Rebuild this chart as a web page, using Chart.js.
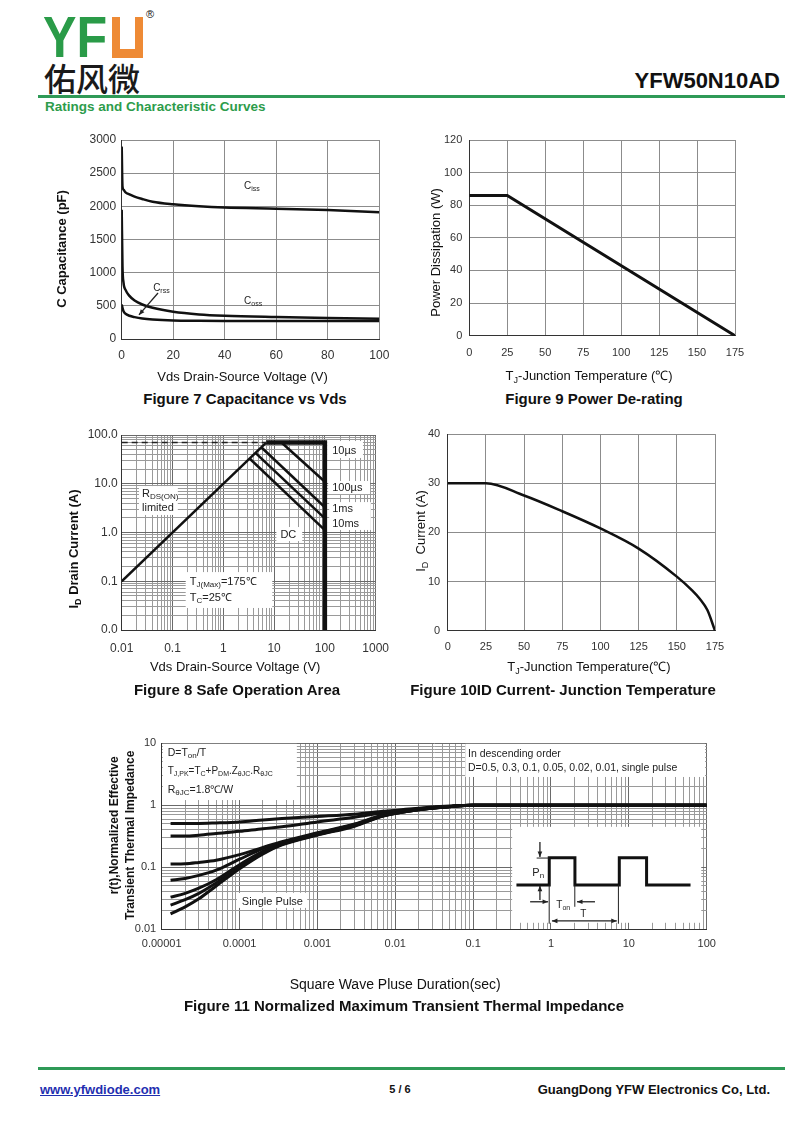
<!DOCTYPE html>
<html>
<head>
<meta charset="utf-8">
<title>YFW50N10AD Ratings and Characteristic Curves</title>
<script src="https://cdn.jsdelivr.net/npm/chart.js@4.4.1/dist/chart.umd.min.js"></script>
<style>
    body { margin: 0; width: 800px; height: 1130px; position: relative; overflow: hidden; background: #fff;
           font-family: 'Liberation Sans', Arial, Helvetica, sans-serif; color: #111; }
    canvas, .abs { position: absolute; }
    #logoYF { left: 43px; top: 9px; font: bold 57px/57px 'Liberation Sans', Arial, sans-serif; color: #2a9b48;
              transform: scaleX(0.88); transform-origin: 0 0; }
    #logoU { left: 112px; top: 17px; width: 31px; height: 41px; background: #ee8a35; }
    #logoU div { position: absolute; left: 8px; top: 0; width: 15px; height: 32px; background: #fff; }
    #logoR { left: 146px; top: 8px; font-size: 11px; }
    #logoCn { left: 44px; top: 60px; font: 500 32px/34px 'Noto Sans CJK SC', sans-serif; color: #1a1a1a; }
    #part { right: 20px; top: 70px; font: bold 22px/22px 'Liberation Sans', Arial, sans-serif; }
    .rule { left: 38px; width: 747px; height: 3px; background: #2f9a57; }
    #section { left: 45px; top: 100px; font: bold 13.5px/13.5px 'Liberation Sans', Arial, sans-serif; color: #2d9c4b; }
    .cap { width: 500px; text-align: center; font: bold 15px/15px 'Liberation Sans', Arial, sans-serif; white-space: nowrap; }
    #url { left: 40px; top: 1083px; font: bold 13px/13px 'Liberation Sans', Arial, sans-serif; color: #1f2fb0; text-decoration: underline; }
    #page { left: 370px; top: 1084px; width: 60px; text-align: center; font: bold 11px/11px 'Liberation Sans', Arial, sans-serif; }
    #company { right: 30px; top: 1083px; font: bold 13px/13px 'Liberation Sans', Arial, sans-serif; }
</style>
</head>
<body>
<div class="abs" id="logoYF">YF</div>
<div class="abs" id="logoU"><div></div></div>
<div class="abs" id="logoR">®</div>
<div class="abs" id="logoCn">佑风微</div>
<div class="abs" id="part">YFW50N10AD</div>
<div class="abs rule" style="top:95px"></div>
<div class="abs" id="section">Ratings and Characteristic Curves</div>

<canvas id="capChart"></canvas>
<canvas id="powerChart"></canvas>
<canvas id="soaChart"></canvas>
<canvas id="currentChart"></canvas>
<canvas id="thermalChart"></canvas>

<div class="abs cap" style="left:-5px;top:391px">Figure 7 Capacitance vs Vds</div>
<div class="abs cap" style="left:344px;top:391px">Figure 9 Power De-rating</div>
<div class="abs cap" style="left:-13px;top:682px">Figure 8 Safe Operation Area</div>
<div class="abs cap" style="left:313px;top:682px">Figure 10ID Current- Junction Temperature</div>
<div class="abs cap" style="left:154px;top:998px">Figure 11 Normalized Maximum Transient Thermal Impedance</div>

<div class="abs rule" style="top:1067px"></div>
<div class="abs" id="url">www.yfwdiode.com</div>
<div class="abs" id="page">5 / 6</div>
<div class="abs" id="company">GuangDong YFW Electronics Co, Ltd.</div>

<script>
// ---------- data ----------
// Figure 7: capacitance vs Vds
const capVds  = [0, 0.3, 0.7, 1.5, 3, 5, 8, 12, 20, 30, 40, 60, 80, 100];
const capCiss = [2900, 2300, 2250, 2210, 2180, 2146, 2110, 2070, 2031, 2000, 1981, 1965, 1945, 1911];
const capCoss = [1950, 1100, 850, 740, 650, 580, 520, 470, 410, 370, 350, 330, 315, 305];
const capCrss = [520, 470, 420, 380, 350, 330, 310, 295, 280, 275, 272, 270, 270, 270];
const capXTicks = [0, 20, 40, 60, 80, 100];
const capYTicks = [0, 500, 1000, 1500, 2000, 2500, 3000];

// Figure 9: power de-rating
const pdTemp = [0, 25, 175];
const pdWatt = [86, 86, 0];
const pdXTicks = [0, 25, 50, 75, 100, 125, 150, 175];
const pdYTicks = [0, 20, 40, 60, 80, 100, 120];

// Figure 8: safe operating area
const soaRdsV = [0.01, 7];        const soaRdsI = [0.1, 70];
const soaDashV = [0.01, 7];       const soaDashI = [70, 70];
const soaLimitV = [7, 100, 100];  const soaLimitI = [70, 70, 0.01];
const soa100usV = [14, 100];      const soa100usI = [70, 11];
const soa1msV = [5.6, 100];       const soa1msI = [56, 3.3];
const soa10msV = [4.3, 100];      const soa10msI = [43, 1.95];
const soaDcV = [3.3, 100];        const soaDcI = [33, 1.12];
const soaXTicks = [0.01, 0.1, 1, 10, 100, 1000];
const soaXLabels = ['0.01', '0.1', '1', '10', '100', '1000'];
const soaYTicks = [0.01, 0.1, 1, 10, 100];
const soaYLabels = ['0.0', '0.1', '1.0', '10.0', '100.0'];

// Figure 10: drain current vs junction temperature
const idTemp = [0, 25, 50, 75, 100, 125, 150, 160, 165, 170, 175];
const idAmp  = [30, 30, 27.5, 24.3, 20.8, 16.7, 11, 8.2, 6.5, 4.2, 0];
const idXTicks = [0, 25, 50, 75, 100, 125, 150, 175];
const idYTicks = [0, 10, 20, 30, 40];

// Figure 11: transient thermal impedance
const thTime = [1.3e-5, 2e-5, 3e-5, 5e-5, 1e-4, 2e-4, 3.5e-4, 1e-3, 3e-3, 7e-3, 0.02, 0.05, 0.1, 1, 10, 100];
const thD50  = [0.51, 0.51, 0.51, 0.52, 0.54, 0.58, 0.61, 0.66, 0.72, 0.80, 0.90, 0.97, 1, 1, 1, 1];
const thD30  = [0.32, 0.32, 0.33, 0.35, 0.38, 0.42, 0.45, 0.54, 0.64, 0.76, 0.88, 0.96, 1, 1, 1, 1];
const thD10  = [0.113, 0.114, 0.12, 0.13, 0.16, 0.21, 0.26, 0.36, 0.50, 0.70, 0.86, 0.96, 1, 1, 1, 1];
const thD05  = [0.062, 0.066, 0.074, 0.09, 0.135, 0.2, 0.25, 0.35, 0.49, 0.69, 0.86, 0.96, 1, 1, 1, 1];
const thD02  = [0.033, 0.038, 0.046, 0.063, 0.11, 0.18, 0.24, 0.34, 0.48, 0.68, 0.85, 0.95, 1, 1, 1, 1];
const thD01  = [0.0246, 0.03, 0.038, 0.056, 0.10, 0.17, 0.235, 0.335, 0.47, 0.68, 0.85, 0.95, 1, 1, 1, 1];
const thSingle = [0.0177, 0.023, 0.031, 0.05, 0.095, 0.165, 0.23, 0.33, 0.46, 0.67, 0.85, 0.95, 1, 1, 1, 1];
const pulseT = [0.36, 0.95, 0.95, 2.03, 2.03, 7.54, 7.54, 16.9, 16.9, 62];
const pulseR = [0.052, 0.052, 0.143, 0.143, 0.052, 0.052, 0.143, 0.143, 0.052, 0.052];
const thXTicks = [1e-5, 1e-4, 1e-3, 1e-2, 0.1, 1, 10, 100];
const thXLabels = ['0.00001', '0.0001', '0.001', '0.01', '0.1', '1', '10', '100'];
const thYTicks = [0.01, 0.1, 1, 10];
const thYLabels = ['0.01', '0.1', '1', '10'];

// ---------- shared setup ----------
const FONT = "'Liberation Sans', Arial, Helvetica, sans-serif";
Chart.defaults.font.family = FONT;
Chart.defaults.font.size = 11;
Chart.defaults.color = '#333';

const isDecade = v => Math.abs(Math.log10(v) - Math.round(Math.log10(v))) < 1e-6;

// 1..9 x 10^n grid values between lo and hi (decades)
function logGrid(lo, hi) {
    const out = [];
    for (let e = Math.round(Math.log10(lo)); e < Math.round(Math.log10(hi)); e++) {
        for (let m = 1; m < 10; m++) out.push(m * Math.pow(10, e));
    }
    out.push(hi);
    return out;
}

function axis(type, ticks, labels, pad, size) {
    const log = type === 'logarithmic';
    return {
        type,
        min: ticks[0],
        max: ticks[ticks.length - 1],
        afterBuildTicks: s => {
            s.ticks = (log ? logGrid(ticks[0], ticks[ticks.length - 1]) : ticks).map(v => ({ value: v }));
        },
        ticks: {
            autoSkip: false, maxRotation: 0, minRotation: 0, padding: pad,
            font: { size: size || 11 },
            callback: v => {
                const i = ticks.findIndex(t => Math.abs(v - t) <= Math.abs(t) * 1e-6 + 1e-12);
                return i < 0 ? '' : (labels ? labels[i] : String(ticks[i]));
            }
        },
        grid: {
            drawTicks: false, lineWidth: 1,
            color: log ? (c => (c.tick && isDecade(c.tick.value)) ? '#6a6a6a' : '#9a9a9a') : '#8c8c8c'
        },
        border: { color: '#333', width: 1 }
    };
}

function line(xs, ys, width, extra) {
    return Object.assign({
        data: xs.map((x, i) => ({ x, y: ys[i] })),
        showLine: true, borderColor: '#111', borderWidth: width, pointRadius: 0, fill: false
    }, extra || {});
}
const smooth = { cubicInterpolationMode: 'monotone' };

// ---------- annotation text, boxes and arrows (positions as fractions of the plot area) ----------
function richParts(str) {
    return str.split(/(_\{[^}]*\})/).filter(Boolean)
        .map(s => s.startsWith('_{') ? { t: s.slice(2, -1), sub: true } : { t: s, sub: false });
}

function drawRich(ctx, str, x, y, size, weight, align) {
    const segs = richParts(str);
    const subSize = Math.round(size * 0.72);
    let total = 0;
    segs.forEach(s => {
        ctx.font = `${weight} ${s.sub ? subSize : size}px ${FONT}`;
        s.w = ctx.measureText(s.t).width;
        total += s.w;
    });
    let cx = align === 'center' ? x - total / 2 : x;
    ctx.textAlign = 'left';
    ctx.textBaseline = 'alphabetic';
    segs.forEach(s => {
        ctx.font = `${weight} ${s.sub ? subSize : size}px ${FONT}`;
        ctx.fillText(s.t, cx, y + (s.sub ? size * 0.22 : 0));
        cx += s.w;
    });
}

function arrow(ctx, x0, y0, x1, y1, both) {
    ctx.beginPath();
    ctx.moveTo(x0, y0);
    ctx.lineTo(x1, y1);
    ctx.stroke();
    const head = (ax, ay, bx, by) => {
        const a = Math.atan2(by - ay, bx - ax), len = 6;
        ctx.beginPath();
        ctx.moveTo(bx, by);
        ctx.lineTo(bx - len * Math.cos(a - 0.4), by - len * Math.sin(a - 0.4));
        ctx.lineTo(bx - len * Math.cos(a + 0.4), by - len * Math.sin(a + 0.4));
        ctx.closePath();
        ctx.fill();
    };
    head(x0, y0, x1, y1);
    if (both) head(x1, y1, x0, y0);
}

const NOTES = {
    capChart: {
        texts: [
            { fx: 0.475, fy: 0.246, t: 'C_{iss}', size: 10 },
            { fx: 0.122, fy: 0.759, t: 'C_{rss}', size: 10 },
            { fx: 0.475, fy: 0.824, t: 'C_{oss}', size: 10 }
        ],
        arrows: [[0.141, 0.769, 0.067, 0.879]],
        xTitle: { t: 'Vds Drain-Source Voltage (V)', dx: -8, dy: 37.7, size: 13, weight: 'normal' },
        yTitles: [{ t: 'C Capacitance (pF)', dx: 60, dy: 9.5, size: 13, weight: 'bold' }]
    },
    powerChart: {
        xTitle: { t: 'T_{J}-Junction Temperature (℃)', dx: -13, dy: 40, size: 13, weight: 'normal' },
        yTitles: [{ t: 'Power Dissipation (W)', dx: 34.3, dy: 14.6, size: 13, weight: 'normal' }]
    },
    soaChart: {
        boxes: [[0.068, 0.262, 0.221, 0.410], [0.809, 0.031, 0.950, 0.118], [0.813, 0.236, 0.978, 0.303],
                [0.817, 0.344, 0.981, 0.487], [0.609, 0.472, 0.711, 0.544], [0.252, 0.703, 0.593, 0.887]],
        texts: [
            { fx: 0.080, fy: 0.318, t: 'R_{DS(ON)}', size: 11 },
            { fx: 0.080, fy: 0.390, t: 'limited', size: 11 },
            { fx: 0.829, fy: 0.097, t: '10µs', size: 11 },
            { fx: 0.829, fy: 0.287, t: '100µs', size: 11 },
            { fx: 0.829, fy: 0.395, t: '1ms', size: 11 },
            { fx: 0.829, fy: 0.472, t: '10ms', size: 11 },
            { fx: 0.625, fy: 0.528, t: 'DC', size: 11 },
            { fx: 0.268, fy: 0.769, t: 'T_{J(Max)}=175℃', size: 11 },
            { fx: 0.268, fy: 0.851, t: 'T_{C}=25℃', size: 11 }
        ],
        xTitle: { t: 'Vds Drain-Source Voltage (V)', dx: -13.5, dy: 36.7, size: 13, weight: 'normal' },
        yTitles: [{ t: 'I_{D} Drain Current (A)', dx: 48.4, dy: 16.5, size: 13, weight: 'bold' }]
    },
    currentChart: {
        xTitle: { t: 'T_{J}-Junction Temperature(℃)', dx: 7.6, dy: 36, size: 13, weight: 'normal' },
        yTitles: [{ t: 'I_{D}  Current (A)', dx: 27.7, dy: -1.4, size: 13, weight: 'normal' }]
    },
    thermalChart: {
        boxes: [[0.002, 0.003, 0.248, 0.305], [0.557, 0.003, 0.997, 0.181], [0.138, 0.804, 0.267, 0.885],
                [0.643, 0.449, 0.990, 0.965]],
        texts: [
            { fx: 0.011, fy: 0.068, t: 'D=T_{on}/T', size: 10.5 },
            { fx: 0.011, fy: 0.165, t: 'T_{J,PK}=T_{C}+P_{DM}.Z_{θJC}.R_{θJC}', size: 10 },
            { fx: 0.011, fy: 0.267, t: 'R_{θJC}=1.8℃/W', size: 10.5 },
            { fx: 0.562, fy: 0.073, t: 'In descending order', size: 10.5 },
            { fx: 0.562, fy: 0.148, t: 'D=0.5, 0.3, 0.1, 0.05, 0.02, 0.01, single pulse', size: 10.5 },
            { fx: 0.147, fy: 0.868, t: 'Single Pulse', size: 11 },
            { fx: 0.680, fy: 0.713, t: 'P_{n}', size: 11 },
            { fx: 0.724, fy: 0.885, t: 'T_{on}', size: 10 },
            { fx: 0.768, fy: 0.934, t: 'T', size: 10 }
        ],
        arrows: [[0.694, 0.530, 0.694, 0.611], [0.694, 0.842, 0.694, 0.766],
                 [0.676, 0.852, 0.709, 0.852], [0.795, 0.852, 0.762, 0.852],
                 [0.716, 0.955, 0.835, 0.955, true]],
        rules: [[0.688, 0.617, 0.711, 0.617], [0.711, 0.762, 0.711, 0.970],
                [0.758, 0.762, 0.758, 0.879], [0.838, 0.762, 0.838, 0.970]],
        xTitle: { t: 'Square Wave Pluse Duration(sec)', dx: -39, dy: 54.7, size: 14, weight: 'normal' },
        yTitles: [
            { t: 'r(t),Normalized Effective', dx: 48.4, dy: -11, size: 12, weight: 'bold' },
            { t: 'Transient Thermal Impedance', dx: 32.4, dy: -1, size: 12, weight: 'bold' }
        ]
    }
};

const notesPlugin = {
    id: 'notes',
    beforeDatasetsDraw(chart) {
        const n = NOTES[chart.canvas.id];
        if (!n || !n.boxes) return;
        const { ctx, chartArea: a } = chart;
        ctx.save();
        ctx.fillStyle = '#fff';
        n.boxes.forEach(([x0, y0, x1, y1]) => {
            ctx.fillRect(a.left + x0 * a.width, a.top + y0 * a.height, (x1 - x0) * a.width, (y1 - y0) * a.height);
        });
        ctx.restore();
    },
    afterDatasetsDraw(chart) {
        const n = NOTES[chart.canvas.id];
        if (!n) return;
        const { ctx, chartArea: a } = chart;
        const px = f => a.left + f * a.width, py = f => a.top + f * a.height;
        ctx.save();
        ctx.fillStyle = '#222';
        ctx.strokeStyle = '#222';
        ctx.lineWidth = 1;
        (n.rules || []).forEach(([x0, y0, x1, y1]) => {
            ctx.beginPath();
            ctx.moveTo(px(x0), py(y0));
            ctx.lineTo(px(x1), py(y1));
            ctx.stroke();
        });
        ctx.lineWidth = 1.3;
        (n.arrows || []).forEach(([x0, y0, x1, y1, both]) => arrow(ctx, px(x0), py(y0), px(x1), py(y1), both));
        (n.texts || []).forEach(t => drawRich(ctx, t.t, px(t.fx), py(t.fy), t.size, 'normal', 'left'));

        // axis titles
        ctx.fillStyle = '#111';
        const xt = n.xTitle;
        if (xt) drawRich(ctx, xt.t, (a.left + a.right) / 2 + xt.dx, a.bottom + xt.dy + xt.size * 0.36, xt.size, xt.weight, 'center');
        (n.yTitles || []).forEach(yt => {
            ctx.save();
            ctx.translate(a.left - yt.dx, (a.top + a.bottom) / 2 + yt.dy);
            ctx.rotate(-Math.PI / 2);
            drawRich(ctx, yt.t, 0, yt.size * 0.36, yt.size, yt.weight, 'center');
            ctx.restore();
        });
        ctx.restore();
    }
};

// place = canvas [x, y, w, h] on the page; plot = chart area [left, top, right, bottom]
function makeChart(id, place, plot, xAxis, yAxis, datasets) {
    const c = document.getElementById(id);
    c.width = place[2];
    c.height = place[3];
    c.style.left = place[0] + 'px';
    c.style.top = place[1] + 'px';
    const yWidth = plot[0] - place[0];
    const xHeight = place[1] + place[3] - plot[3];
    xAxis.afterFit = s => { s.height = xHeight; };
    yAxis.afterFit = s => { s.width = yWidth; };
    return new Chart(c, {
        type: 'scatter',
        data: { datasets },
        options: {
            responsive: false,
            animation: false,
            events: [],
            layout: { padding: { left: 0, bottom: 0, top: plot[1] - place[1], right: place[0] + place[2] - plot[2] } },
            scales: { x: xAxis, y: yAxis },
            plugins: { legend: { display: false }, tooltip: { enabled: false } }
        },
        plugins: [notesPlugin]
    });
}

// 1. Figure 7 Capacitance
makeChart('capChart', [45, 125, 355, 265], [121.7, 140, 379.3, 339],
    axis('linear', capXTicks, null, 9, 12),
    axis('linear', capYTicks, null, 5.5, 12),
    [
        line(capVds, capCiss, 2.5, smooth),
        line(capVds, capCoss, 2.5, smooth),
        line(capVds, capCrss, 2.5, smooth)
    ]);

// 2. Figure 9 Power de-rating
makeChart('powerChart', [420, 125, 345, 265], [469.3, 140, 735, 335.7],
    axis('linear', pdXTicks, null, 11, 11),
    axis('linear', pdYTicks, null, 7, 11),
    [line(pdTemp, pdWatt, 3)]);

// 3. Figure 8 Safe operating area
makeChart('soaChart', [55, 420, 345, 262], [121.7, 435, 376.7, 630],
    axis('logarithmic', soaXTicks, soaXLabels, 11, 12),
    axis('logarithmic', soaYTicks, soaYLabels, 4, 12),
    [
        line(soaDashV, soaDashI, 1.5, { borderDash: [6, 4], borderColor: '#222' }),
        line(soaRdsV, soaRdsI, 2.5),
        line(soaLimitV, soaLimitI, 4.5),
        line(soa100usV, soa100usI, 2.5),
        line(soa1msV, soa1msI, 2.5),
        line(soa10msV, soa10msI, 2.5),
        line(soaDcV, soaDcI, 2.5)
    ]);

// 4. Figure 10 Drain current vs temperature
makeChart('currentChart', [405, 420, 345, 262], [447.7, 434, 715, 630.7],
    axis('linear', idXTicks, null, 10, 11),
    axis('linear', idYTicks, null, 7.5, 11),
    [line(idTemp, idAmp, 2.5, smooth)]);

// 5. Figure 11 Transient thermal impedance
makeChart('thermalChart', [95, 728, 640, 270], [161.7, 743.3, 706.7, 929.3],
    axis('logarithmic', thXTicks, thXLabels, 8, 11),
    axis('logarithmic', thYTicks, thYLabels, 5.5, 11),
    [
        line(thTime, thD50, 3, smooth),
        line(thTime, thD30, 3, smooth),
        line(thTime, thD10, 3, smooth),
        line(thTime, thD05, 3, smooth),
        line(thTime, thD02, 3, smooth),
        line(thTime, thD01, 3, smooth),
        line(thTime, thSingle, 3, smooth),
        line(pulseT, pulseR, 3)
    ]);
</script>
</body>
</html>
